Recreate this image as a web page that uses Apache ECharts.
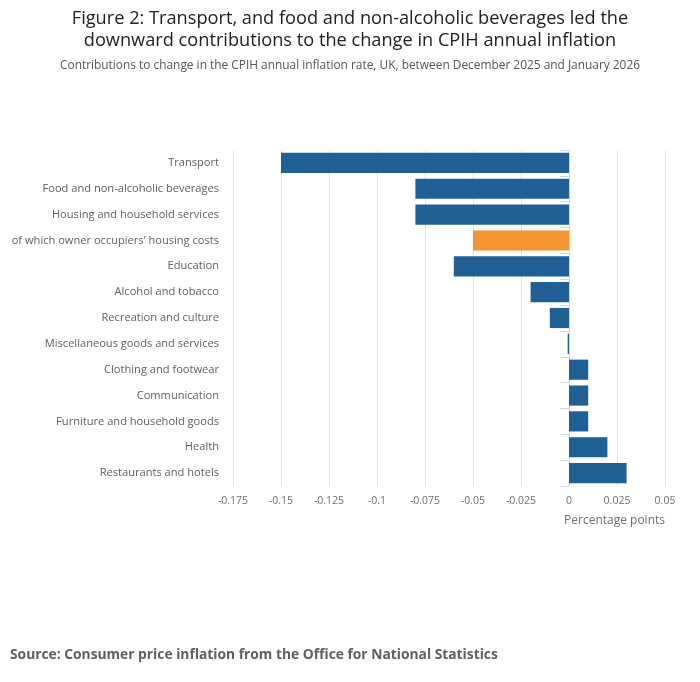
<!DOCTYPE html>
<html>
<head>
<meta charset="utf-8">
<script src="https://cdn.jsdelivr.net/npm/echarts@6/dist/echarts.min.js"></script>
<style>
  html, body { margin: 0; padding: 0; background: #fff; }
  #chart { width: 700px; height: 682px; }
</style>
</head>
<body>
<div id="chart"></div>
<script>
var CATEGORIES = [
  "Transport",
  "Food and non-alcoholic beverages",
  "Housing and household services",
  "of which owner occupiers\u2019 housing costs",
  "Education",
  "Alcohol and tobacco",
  "Recreation and culture",
  "Miscellaneous goods and services",
  "Clothing and footwear",
  "Communication",
  "Furniture and household goods",
  "Health",
  "Restaurants and hotels",
];
var VALUES = [-0.15, -0.08, -0.08, -0.05, -0.06, -0.02, -0.01, -0.0007, 0.01, 0.01, 0.01, 0.02, 0.03];
var HIGHLIGHT = "of which owner occupiers\u2019 housing costs";

var FONT = "'Open Sans', sans-serif";
var BLUE = "#206095";
var ORANGE = "#F39431";

var CHART = echarts.init(document.getElementById("chart"), null, { renderer: "canvas" });

var seriesData = VALUES.map((v, i) => ({
  value: v,
  itemStyle: { color: CATEGORIES[i] == HIGHLIGHT ? ORANGE : BLUE },
}));

var OPTION = {
  animation: false,
  title: [
    {
      text: "Figure 2: Transport, and food and non-alcoholic beverages led the\ndownward contributions to the change in CPIH annual inflation",
      left: "center",
      top: 8,
      padding: 0,
      textStyle: { fontFamily: FONT, fontSize: 18.2, fontWeight: "normal", color: "#222222", lineHeight: 22, align: "center" },
    },
    {
      text: "Contributions to change in the CPIH annual inflation rate, UK, between December 2025 and January 2026",
      left: "center",
      top: 60,
      padding: 0,
      textStyle: { fontFamily: FONT, fontSize: 11.9, fontWeight: "normal", color: "#555555" },
    },
    {
      text: "Source: Consumer price inflation from the Office for National Statistics",
      left: 10,
      top: 648,
      padding: 0,
      textStyle: { fontFamily: FONT, fontSize: 13.8, fontWeight: "bold", color: "#606060" },
    },
  ],
  grid: {
    left: 233,
    right: 35,
    top: 150,
    height: 336,
    containLabel: false,
    outerBoundsMode: "none",
  },
  xAxis: {
    type: "value",
    min: -0.175,
    max: 0.05,
    interval: 0.025,
    name: "Percentage points",
    nameLocation: "end",
    nameGap: 0,
    nameTextStyle: {
      fontFamily: FONT,
      fontSize: 12,
      color: "#707070",
      align: "right",
      verticalAlign: "top",
      padding: [29, 0, 0, 0],
    },
    axisLine: { show: false },
    axisTick: { show: false },
    axisLabel: {
      fontFamily: FONT,
      fontSize: 10.5,
      color: "#707070",
      margin: 10,
      formatter: (v) => String(Math.round(v * 1000) / 1000),
    },
    splitLine: { show: true, lineStyle: { color: "#e3e3e3", width: 1 } },
  },
  yAxis: {
    type: "category",
    data: CATEGORIES,
    inverse: true,
    axisLine: { show: true, lineStyle: { color: "#ccd6eb", width: 1 } },
    axisTick: { show: true, length: 9, lineStyle: { color: "#ccd6eb" } },
    axisLabel: {
      fontFamily: FONT,
      fontSize: 11.1,
      color: "#606060",
      margin: 14,
      padding: [2, 0, 0, 0],
    },
    splitLine: { show: false },
  },
  series: [
    {
      name: "Contribution",
      type: "bar",
      data: seriesData,
      barCategoryGap: "22%",
    },
  ],
};

CHART.setOption(OPTION);
</script>
</body>
</html>
